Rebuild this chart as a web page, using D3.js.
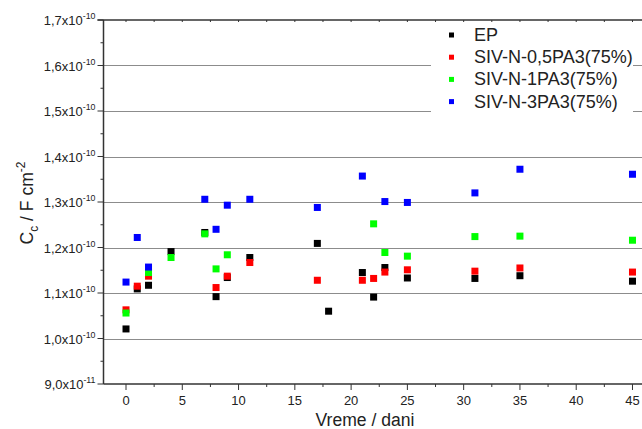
<!DOCTYPE html>
<html><head><meta charset="utf-8">
<script src="https://cdn.jsdelivr.net/npm/d3@7"></script>
<style>body{margin:0;background:#fff}svg{display:block}</style>
</head><body><svg id="c" width="642" height="429" font-family="Liberation Sans, Arial, sans-serif"></svg>
<script>
// values in units of 1e-10 F cm^-2
const seriesNames = ["EP","SIV-N-0,5PA3(75%)","SIV-N-1PA3(75%)","SIV-N-3PA3(75%)"];
const seriesColors = ["#000000","#ff0000","#00ff00","#0000ff"];
const epDays = [0,1,2,4,7,8,9,11,17,18,21,22,23,25,31,35,45];
const epVals = [1.021,1.109,1.117,1.191,1.233,1.092,1.134,1.178,1.209,1.060,1.145,1.091,1.156,1.133,1.132,1.138,1.126];
const redDays = [0,1,2,8,9,11,17,21,22,23,25,31,35,45];
const redVals = [1.063,1.115,1.137,1.112,1.137,1.167,1.128,1.128,1.132,1.146,1.151,1.148,1.155,1.146];
const greenDays = [0,2,4,7,8,9,22,23,25,31,35,45];
const greenVals = [1.056,1.145,1.178,1.230,1.153,1.184,1.252,1.189,1.181,1.224,1.225,1.216];
const blueDays = [0,1,2,7,8,9,11,17,21,23,25,31,35,45];
const blueVals = [1.124,1.222,1.157,1.306,1.240,1.293,1.306,1.288,1.357,1.301,1.299,1.320,1.372,1.361];
const xTicks = [0,5,10,15,20,25,30,35,40,45];
const yTicks = [0.9,1.0,1.1,1.2,1.3,1.4,1.5,1.6,1.7];
const yTickMant = ["9,0","1,0","1,1","1,2","1,3","1,4","1,5","1,6","1,7"];
const yTickExp = ["-11","-10","-10","-10","-10","-10","-10","-10","-10"];

const svg = d3.select("#c");
const L=103.5, T=20, B=384, R=655;
const x = d3.scaleLinear().domain([-2,47]).range([L,R]);
const y = d3.scaleLinear().domain([0.9,1.7]).range([B,T]);

function fit(sel, target){
  const n = sel.node(); const w = n.getComputedTextLength();
  const fs = parseFloat(sel.attr("font-size"));
  return w>0 ? fs*target/w : fs;
}

// grid
svg.append("g").selectAll("line").data(yTicks.slice(1,-1)).join("line")
  .attr("x1",L).attr("x2",R).attr("y1",d=>Math.round(y(d))+0.5).attr("y2",d=>Math.round(y(d))+0.5)
  .attr("stroke","#8c8c8c").attr("stroke-width",1);

// legend background
svg.append("rect").attr("x",431).attr("y",22).attr("width",202).attr("height",90).attr("fill","#fff");

// data
const series = [[epDays,epVals],[redDays,redVals],[greenDays,greenVals],[blueDays,blueVals]];
const ms = 7;
series.forEach((s,i)=>{
  svg.append("g").selectAll("rect").data(s[0].map((d,j)=>({d:d,v:s[1][j]}))).join("rect")
    .attr("x",p=>x(p.d)-ms/2).attr("y",p=>y(p.v)-ms/2).attr("width",ms).attr("height",ms)
    .attr("fill",seriesColors[i]);
});

// axes
const ax = svg.append("g").attr("stroke","#333").attr("fill","none");
ax.append("line").attr("x1",L).attr("x2",L).attr("y1",T).attr("y2",B).attr("stroke-width",1.5);
ax.append("line").attr("x1",L).attr("x2",R).attr("y1",B).attr("y2",B).attr("stroke-width",1.5);
ax.append("line").attr("x1",L-6).attr("x2",R).attr("y1",T).attr("y2",T).attr("stroke-width",1.5);

const xMinor = d3.range(-2.5,47.5,2.5).filter(d=>d>=-2 && xTicks.indexOf(d)<0);
ax.selectAll(".xM").data(xTicks).join("line").attr("x1",d=>x(d)).attr("x2",d=>x(d)).attr("y1",B).attr("y2",B+6).attr("stroke-width",1);
ax.selectAll(".xm").data(xMinor).join("line").attr("x1",d=>x(d)).attr("x2",d=>x(d)).attr("y1",B).attr("y2",B+3).attr("stroke-width",1);
ax.selectAll(".xt").data(xTicks.concat(xMinor)).join("line").attr("x1",d=>x(d)).attr("x2",d=>x(d)).attr("y1",T).attr("y2",T+2).attr("stroke-width",1);
const yMinor = d3.range(0.95,1.7,0.1);
ax.selectAll(".yM").data(yTicks).join("line").attr("x1",L-6).attr("x2",L).attr("y1",d=>y(d)).attr("y2",d=>y(d)).attr("stroke-width",1);
ax.selectAll(".ym").data(yMinor).join("line").attr("x1",L-3).attr("x2",L).attr("y1",d=>y(d)).attr("y2",d=>y(d)).attr("stroke-width",1);

// size calibration
const probe = svg.append("text").attr("font-size",12).text("1,7x10");
const tickFs = fit(probe, 39); probe.remove();
const probe2 = svg.append("text").attr("font-size",16).text("SIV-N-0,5PA3(75%)");
const legFs = fit(probe2, 159); probe2.remove();
const probe3 = svg.append("text").attr("font-size",16).text("Vreme / dani");
const titFs = fit(probe3, 99); probe3.remove();

// x labels
svg.append("g").selectAll("text").data(xTicks).join("text")
  .attr("x",d=>x(d)).attr("y",B+21).attr("text-anchor","middle").attr("font-size",tickFs).attr("fill","#222").text(d=>d);
// y labels
const yl = svg.append("g").selectAll("text").data(yTicks).join("text")
  .attr("x",L-8).attr("y",d=>y(d)+5).attr("text-anchor","end").attr("font-size",tickFs).attr("fill","#222");
yl.append("tspan").text((d,i)=>yTickMant[i]+"x10");
yl.append("tspan").attr("dy",-6).attr("font-size",tickFs*0.68).text((d,i)=>yTickExp[i]);

// titles
svg.append("text").attr("x",365).attr("y",426).attr("text-anchor","middle").attr("font-size",titFs).attr("fill","#222").text("Vreme / dani");
const yt = svg.append("text").attr("transform","translate(33,203) rotate(-90)").attr("text-anchor","middle").attr("font-size",titFs).attr("fill","#222");
yt.append("tspan").text("C");
yt.append("tspan").attr("dy",5).attr("font-size",titFs*0.68).text("c");
yt.append("tspan").attr("dy",-5).text(" / F cm");
yt.append("tspan").attr("dy",-8).attr("font-size",titFs*0.68).text("-2");

// legend
const lg = svg.append("g");
seriesNames.forEach((n,i)=>{
  const yy = 35 + i*22.2;
  lg.append("rect").attr("x",449).attr("y",yy-2.5).attr("width",5).attr("height",5).attr("fill",seriesColors[i]);
  lg.append("text").attr("x",474).attr("y",yy+6).attr("font-size",legFs).attr("fill","#222").text(n);
});
</script></body></html>
